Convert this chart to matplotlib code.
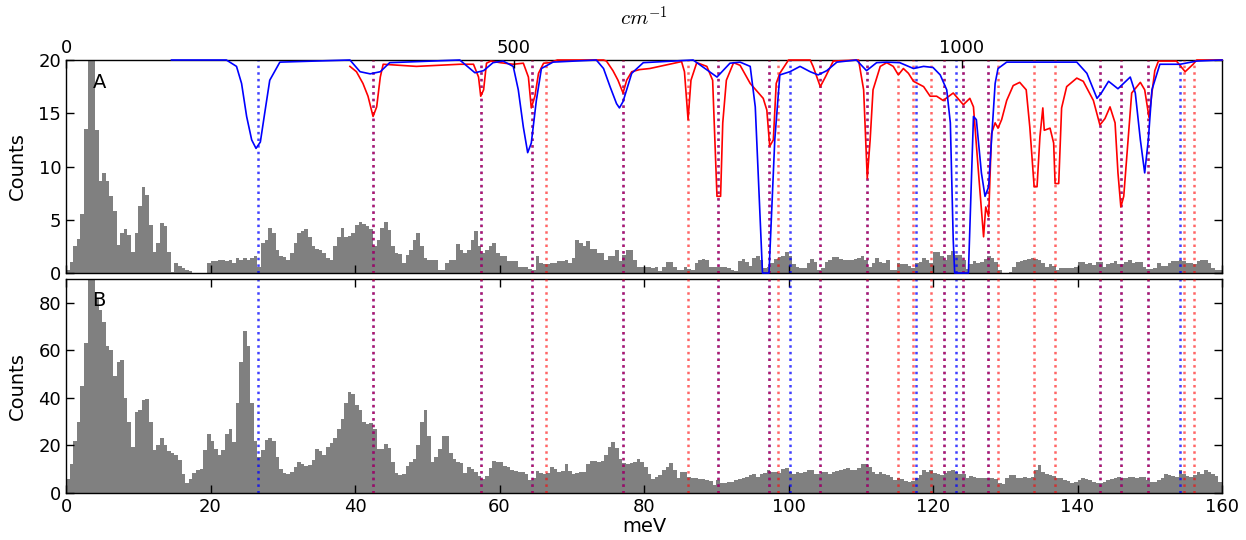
import numpy as np
import matplotlib
matplotlib.use("Agg")
import matplotlib.pyplot as plt

# ---------------- data ----------------
bin_width = 0.5  # meV
emin, emax = 0.0, 160.0

counts_A = [
    0.3, 1.0, 2.5, 3.2, 5.5, 13.5, 25, 21, 13.4, 8.6,
    9.4, 8.6, 7.2, 5.8, 2.6, 3.8, 4.1, 3.6, 2.0, 3.8,
    6.3, 8.1, 7.3, 4.5, 2.0, 2.8, 4.7, 4.4, 2.0, 0.1,
    0.9, 0.7, 0.5, 0.3, 0.15, 0, 0, 0, 0, 0.9,
    1.1, 1.1, 1.25, 1.25, 1.1, 1.25, 0.9, 1.4, 1.25, 1.4,
    1.25, 1.4, 1.6, 0.6, 2.8, 3.1, 4.2, 3.75, 2.2, 1.6,
    1.5, 1.25, 1.9, 2.8, 3.75, 3.9, 4.1, 3.4, 2.5, 2.3,
    2.2, 1.9, 1.4, 1.25, 2.5, 3.4, 4.2, 3.4, 3.5, 3.75,
    4.5, 4.8, 4.6, 4.4, 4.1, 2.5, 3.1, 4.2, 4.8, 4.0,
    2.5, 1.9, 1.8, 0.9, 1.7, 2.2, 3.1, 3.75, 2.5, 1.4,
    1.25, 1.25, 1.2, 0.3, 0.3, 0.9, 1.25, 1.25, 2.7, 2.2,
    1.9, 2.2, 3.1, 3.9, 2.5, 1.9, 2.2, 2.5, 2.8, 1.9,
    1.6, 1.6, 1.1, 1.1, 1.1, 0.6, 0.6, 0.6, 0.4, 0.3,
    1.6, 0.9, 0.8, 0.8, 0.9, 0.9, 1.1, 1.1, 1.25, 0.9,
    1.4, 3.1, 2.8, 2.5, 3.0, 2.3, 2.3, 1.9, 1.9, 1.25,
    1.6, 1.6, 2.2, 1.1, 1.7, 2.2, 2.2, 1.25, 0.6, 0.6,
    0.6, 0.55, 0.5, 0.6, 0.15, 0.6, 1.0, 1.0, 0.6, 0.3,
    0.3, 0.6, 0.4, 0.3, 0.9, 1.2, 1.3, 1.2, 0.6, 0.6,
    0.55, 0.6, 0.55, 0.45, 0.3, 0.2, 1.1, 1.3, 1.0, 0.7,
    1.4, 1.6, 1.25, 0.5, 0.6, 0.9, 1.3, 1.5, 1.6, 2.0,
    1.6, 0.8, 0.6, 0.5, 0.5, 0.9, 1.3, 1.0, 0.3, 0.5,
    1.0, 1.25, 1.5, 1.5, 1.3, 1.25, 1.25, 1.25, 1.3, 1.4,
    1.6, 1.2, 0.6, 0.9, 1.4, 1.0, 0.9, 1.25, 0.3, 0.3,
    0.9, 0.85, 0.8, 0.7, 0.5, 0.9, 1.0, 1.4, 1.2, 0.9,
    2.0, 2.0, 1.6, 1.25, 1.7, 2.1, 1.7, 1.7, 1.2, 0.4,
    0.8, 1.1, 0.9, 1.0, 1.3, 1.6, 1.4, 1.0, 0.3, 0,
    0, 0.1, 0.6, 1.0, 1.1, 1.25, 1.35, 1.4, 1.3, 1.2,
    0.9, 0.6, 0.8, 0.7, 0.3, 0.5, 0.5, 0.5, 0.5, 0.6,
    1.0, 1.0, 0.8, 0.9, 0.75, 1.0, 1.0, 0.6, 0.85, 0.95,
    1.1, 0.8, 0.85, 1.0, 1.25, 0.9, 1.0, 1.0, 0.6, 0.35,
    0.4, 0.5, 0.9, 0.7, 0.7, 0.9, 1.1, 1.1, 1.25, 1.1,
    0.9, 0.9, 0.8, 1.1, 1.2, 1.25, 0.9, 0.5, 0.3, 0.3,
]

counts_B = [
    6, 12, 22, 30, 45, 63, 100, 95, 82, 77,
    72, 62, 60, 49, 55, 56, 40, 30, 19.4, 34,
    35, 39, 39.5, 30, 18, 20, 23, 20, 17.5, 17,
    16, 14, 8, 4, 6, 8.5, 9.6, 9.9, 18, 25,
    22, 18.5, 16, 18, 25, 27, 21.5, 38, 55, 68,
    62, 38, 22, 15, 18, 22.5, 23, 22, 15, 10,
    8.5, 8.2, 9, 11, 13, 12, 11.5, 11.7, 13.8, 18.5,
    17.5, 16, 19.5, 21, 23, 27, 31, 38, 42.4, 41.5,
    37, 35, 30, 29, 29.5, 27, 18.5, 18.5, 20.8, 19,
    13, 8.5, 7.5, 8, 11.5, 13, 14.5, 20, 30, 35,
    24, 13, 15, 18.5, 24, 24, 17, 14.5, 13.2, 12.5,
    8.5, 11, 10, 9, 7, 5.8, 7, 10.5, 13.5, 13.2,
    13.1, 11.5, 11, 9.8, 9.4, 8.9, 8.9, 8.2, 5.5, 6.5,
    9.2, 8.3, 8.2, 8.5, 11, 10, 9, 9.4, 12, 9.2,
    8.2, 8.4, 8.9, 8.9, 12, 13.5, 13.5, 13.1, 13.3, 16,
    19.4, 21.5, 19, 14.5, 12.7, 12.4, 12.7, 13.1, 14.3, 13,
    11, 8.2, 5.7, 6.8, 7.5, 9.6, 11, 12.5, 9.5, 6.1,
    8.9, 8.9, 6.8, 6.5, 6.1, 6.0, 5.7, 5.5, 5.0, 3.5,
    5.4, 4.0, 4.0, 4.7, 4.7, 5.4, 5.8, 6.5, 6.8, 7.5,
    8.2, 6.8, 8.0, 8.5, 9.6, 8.9, 8.9, 8.5, 10, 10.5,
    9, 8.2, 8.9, 8.5, 8.9, 9.6, 9.6, 8.0, 8.0, 8.9,
    8.9, 8.2, 8.9, 9.2, 9.6, 10, 10.5, 9.6, 9.7, 10.5,
    12, 12.4, 11, 9, 8.2, 8.9, 8.0, 7.5, 6.8, 5.6,
    6.1, 6.0, 5.2, 4.7, 5.0, 6.5, 7.5, 9.6, 9, 9.6,
    8.5, 8.2, 7.5, 8.5, 9.3, 9.5, 8.7, 8.0, 7.8, 6.1,
    7.1, 6.6, 6.5, 6.1, 6.4, 6.1, 6.1, 5.8, 4.0, 3.8,
    6.5, 7.5, 7.5, 6.2, 6.5, 6.8, 6.2, 6.8, 9.6, 11.7,
    8.7, 8.0, 7.5, 7.0, 6.1, 6.1, 5.4, 5.2, 4.0, 4.5,
    5.4, 6.1, 5.9, 5.4, 4.7, 4.0, 4.3, 4.7, 5.4, 6.0,
    6.4, 6.8, 6.2, 6.3, 6.8, 6.8, 6.3, 6.6, 6.8, 5.4,
    4.5, 4.7, 5.4, 6.5, 8.0, 7.6, 7.2, 6.8, 9.6, 8.2,
    7.2, 6.8, 7.5, 8.9, 8.2, 9.6, 9.0, 8.2, 7.0, 4.7,
]

# inverted spectra drawn in panel A (meV, counts-scale)
blue_curve = [
    (14.6, 20), (22.2, 20), (23.6, 19.4), (24.3, 17.8), (25.0, 14.7), (25.7, 12.5),
    (26.3, 11.7), (26.9, 12.3), (27.5, 15.0), (28.2, 18.1), (29.6, 19.8), (39.3, 20),
    (40.7, 18.9), (42.1, 18.7), (43.5, 18.9), (44.8, 19.75), (54.5, 20), (56.6, 18.8),
    (57.8, 19.0), (59.1, 19.75), (60.5, 19.9), (61.9, 19.4), (62.6, 17.2), (63.3, 13.7),
    (63.9, 11.3), (64.4, 12.2), (65.1, 16.2), (65.8, 19.2), (67.4, 19.8), (73.4, 20),
    (74.4, 19.2), (75.3, 17.5), (76.2, 15.9), (76.6, 15.5), (77.1, 16.1), (78.3, 18.75),
    (79.9, 19.75), (86.8, 20), (90.1, 18.4), (91.9, 19.7), (93.3, 19.8), (94.7, 19.4),
    (95.4, 15.6), (95.8, 9.4), (96.4, 0), (97.3, 0), (98.1, 12.5), (98.8, 18.6),
    (100.2, 18.9), (101.6, 19.4), (103.0, 18.9), (104.1, 18.6), (105.3, 19.0), (106.7, 19.8),
    (109.4, 20), (110.8, 19.0), (112.2, 19.75), (113.6, 19.8), (115.4, 19.75), (117.3, 19.2),
    (118.7, 19.4), (120.0, 19.3), (121.0, 18.6), (121.9, 17.2), (122.4, 14.1), (122.8, 3.1),
    (123.0, 0), (124.9, 0), (125.6, 14.7), (126.0, 14.4), (126.7, 9.4), (127.2, 7.2),
    (127.7, 8.1), (128.1, 12.5), (128.6, 17.8), (129.0, 19.2), (130.2, 19.8), (139.9, 19.8),
    (141.3, 18.75), (142.7, 16.4), (143.3, 16.9), (144.3, 18.0), (145.6, 17.3), (147.3, 18.4),
    (148.0, 16.9), (148.7, 12.5), (149.3, 9.4), (149.8, 12.5), (150.3, 17.2), (151.4, 19.6),
    (154.2, 19.6), (156.5, 19.9), (160.0, 20),
]

red_curve = [
    (39.3, 19.4), (40.2, 18.9), (41.1, 17.8), (41.8, 16.6), (42.5, 14.7), (43.0, 15.6),
    (43.5, 18.4), (43.9, 19.6), (48.5, 19.4), (54.5, 19.6), (56.4, 19.6), (57.1, 18.4),
    (57.4, 16.6), (57.8, 17.2), (58.2, 19.7), (58.8, 19.9), (60.1, 19.75), (61.9, 19.6),
    (63.3, 19.7), (64.0, 18.4), (64.4, 15.5), (64.9, 16.6), (65.4, 18.75), (66.1, 19.7),
    (67.0, 19.75), (68.0, 20), (74.4, 20), (74.8, 19.9), (75.7, 19.0), (76.4, 18.1),
    (77.1, 16.9), (77.6, 18.1), (78.3, 18.9), (79.4, 19.1), (80.8, 19.2), (85.2, 19.85),
    (85.6, 18.9), (86.1, 14.4), (86.5, 18.1), (87.3, 19.75), (88.7, 19.4), (89.5, 18.1),
    (90.1, 7.2), (90.6, 7.2), (90.9, 14.1), (91.4, 18.1), (92.4, 19.75), (93.3, 19.5),
    (94.7, 17.8), (96.5, 16.4), (97.0, 15.3), (97.4, 11.9), (97.9, 12.5), (98.3, 17.8),
    (98.8, 18.75), (100.0, 20), (103.0, 20), (103.4, 19.4), (104.4, 17.5), (105.1, 18.4),
    (106.2, 19.9), (109.7, 20), (110.4, 17.2), (110.9, 8.9), (111.3, 12.5), (111.7, 17.2),
    (112.7, 19.4), (113.6, 19.75), (114.5, 19.4), (115.2, 18.6), (115.9, 19.2), (116.6, 18.75),
    (117.3, 18.0), (118.7, 17.5), (119.6, 16.6), (120.5, 16.6), (121.4, 16.2), (122.8, 16.9),
    (124.2, 15.8), (125.1, 16.4), (125.6, 15.6), (126.3, 9.4), (127.0, 3.4), (127.3, 6.2),
    (127.7, 5.3), (128.1, 13.1), (128.6, 14.1), (129.0, 13.6), (129.5, 14.4), (130.2, 16.2),
    (131.1, 17.6), (132.0, 17.9), (132.9, 17.2), (133.4, 13.7), (134.0, 8.1), (134.4, 8.1),
    (134.8, 12.8), (135.2, 15.5), (135.4, 13.4), (136.2, 13.6), (136.7, 12.2), (136.9, 8.4),
    (137.4, 8.4), (137.8, 15.5), (138.5, 17.5), (139.9, 18.3), (140.8, 18.0), (142.2, 16.2),
    (143.1, 13.9), (143.8, 14.5), (144.5, 15.6), (145.2, 14.1), (145.6, 9.4), (146.0, 6.2),
    (146.4, 7.2), (147.0, 12.5), (147.5, 16.9), (148.7, 17.9), (149.3, 17.2), (149.9, 14.6),
    (150.3, 16.9), (150.7, 19.0), (151.2, 19.9), (153.7, 19.9), (154.9, 18.9), (156.0, 19.6),
    (156.5, 20), (160.0, 20),
]

blue_lines = [26.6, 42.5, 57.4, 64.5, 77.1, 90.3, 97.3, 100.2, 104.4, 110.9, 117.7,
              121.5, 123.2, 124.2, 127.6, 143.1, 146.0, 149.8, 154.2]
red_lines = [42.5, 57.4, 64.5, 66.4, 77.1, 86.1, 90.3, 97.3, 98.6, 104.4, 110.9, 115.1,
             117.2, 119.7, 121.5, 124.2, 127.6, 129.0, 134.0, 136.9, 143.1, 146.0, 149.8,
             154.7, 156.1]

mev_ticks = [0, 20, 40, 60, 80, 100, 120, 140, 160]
wavenumber_ticks = [0, 500, 1000]
mev_to_cm = 8.06554

# ---------------- figure ----------------
plt.rcParams['font.family'] = ['DejaVu Sans']
plt.rcParams['mathtext.fontset'] = 'cm'
fig = plt.figure(figsize=(12.46, 5.40), dpi=100)
axA = fig.add_axes([66/1246, 1-273/540, 1156/1246, 213/540])
axB = fig.add_axes([66/1246, 1-493/540, 1156/1246, 214/540])

edges = np.arange(emin, emax + bin_width/2, bin_width)
grey = '#808080'

for ax, counts in ((axA, counts_A), (axB, counts_B)):
    ax.stairs(counts, edges, fill=True, color=grey, linewidth=0, zorder=1)
    for x in blue_lines:
        ax.axvline(x, color='#0000ff', linestyle=':', linewidth=1.8, alpha=0.75, zorder=2)
    for x in red_lines:
        ax.axvline(x, color='#ff0000', linestyle=':', linewidth=1.8, alpha=0.6, zorder=3)
    ax.set_xlim(emin, emax)
    ax.set_xticks(mev_ticks)
    ax.tick_params(direction='in', top=True, right=True, length=6, width=1,
                   labelsize=13)
    for s in ax.spines.values():
        s.set_linewidth(1.0)
    ax.set_ylabel('Counts', fontsize=14)
    ax.yaxis.set_label_coords(-0.034, 0.5)

axT = axA.twiny()
axT.set_xlim(emin * mev_to_cm, emax * mev_to_cm)
axT.set_xticks(wavenumber_ticks)
axT.tick_params(direction='in', length=6, width=1, labelsize=13, pad=2)
axT.set_xlabel(r'$cm^{-1}$', fontsize=15, labelpad=10)
for s in axT.spines.values():
    s.set_visible(False)

bx, by = zip(*blue_curve)
rx, ry = zip(*red_curve)
axA.plot(bx, by, color='#0000ff', linewidth=1.2, zorder=6, clip_on=False)
axA.plot(rx, ry, color='#ff0000', linewidth=1.2, zorder=5, clip_on=False)

axA.set_ylim(0, 20)
axA.set_yticks([0, 5, 10, 15, 20])
axA.tick_params(labelbottom=False)
axA.text(0.023, 0.895, 'A', transform=axA.transAxes, fontsize=14, va='center')

axB.set_ylim(0, 90)
axB.set_yticks([0, 20, 40, 60, 80])
axB.set_xlabel('meV', fontsize=14, labelpad=1)
axB.text(0.023, 0.90, 'B', transform=axB.transAxes, fontsize=14, va='center')

fig.savefig('out.png', dpi=100)
